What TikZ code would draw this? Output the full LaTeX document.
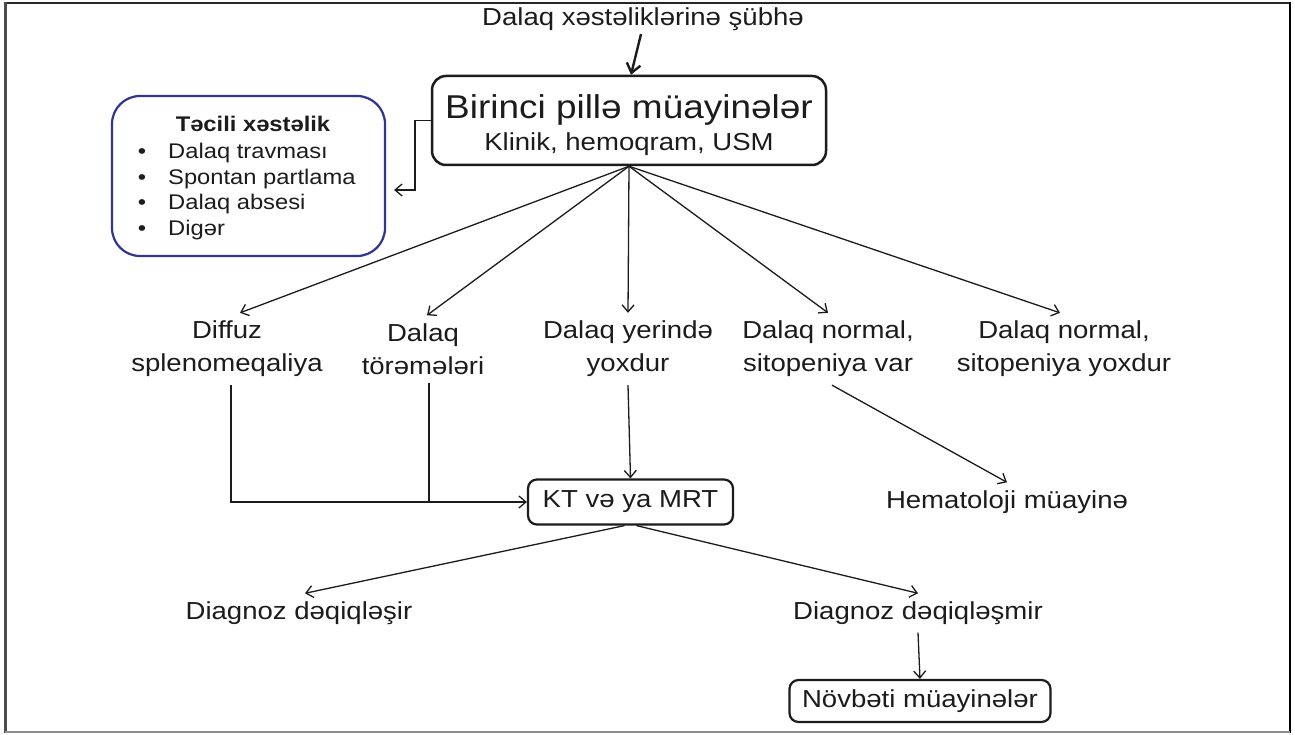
\documentclass[tikz,border=0pt]{standalone}
\usepackage{fontspec}
\setmainfont[FakeStretch=1.12]{Liberation Sans}
\usetikzlibrary{arrows.meta}
\definecolor{navy}{RGB}{48,52,150}
\definecolor{ink}{RGB}{28,28,28}
\begin{document}
\begin{tikzpicture}[x=1pt,y=-1pt,
  every node/.style={font=\fontsize{24.6}{29}\selectfont, text=ink},
  box/.style={draw=ink, line width=2.2pt, rounded corners=9pt, inner sep=0pt},
  lbl/.style={align=center, inner sep=8pt, font=\fontsize{24.6}{33}\selectfont},
  item/.style={inner sep=0pt, font=\fontsize{21.2}{25}\selectfont},
  arr/.style={draw=ink, -{Straight Barb[length=7pt,width=12pt]}, line width=1.3pt},
  ln/.style={draw=ink, line width=1.3pt}]
\useasboundingbox (0,0) rectangle (1295,735);
\fill[white] (0,0) rectangle (1295,735);
% frame
\draw[line width=2pt, black!85] (5,3) -- (1290,3);
\draw[line width=3pt, black!70] (5,2) -- (5,733);
\draw[line width=2.5pt, black] (1290,2) -- (1290,733);
\draw[line width=2pt, black!45] (5,732) -- (1290,732);

% title and first box
\node (t) at (643,19) {Dalaq xəstəliklərinə şübhə};
\node[box, line width=2.5pt, rounded corners=14pt, minimum width=394pt, minimum height=89pt, align=center] (m) at (629,120.5)
  {{\fontsize{33}{36}\selectfont\rule{0pt}{34pt}Birinci pillə müayinələr}\\[3pt]{\fontsize{24.6}{32}\selectfont Klinik, hemoqram, USM}};
\draw[draw=ink, -{Straight Barb[length=9pt,width=14pt]}, line width=2.4pt] ([xshift=-2pt]t.south) -- ([xshift=2pt]m.north);

% emergency box
\node[box, draw=navy, rounded corners=28pt, minimum width=273pt, minimum height=160pt] (e) at (248.5,176) {};
\node[item, anchor=base, font=\bfseries\fontsize{21.2}{25}\selectfont] (eh) at (253,132) {Təcili xəstəlik};
\node[item, anchor=base] (b1) at (142,159) {\textbullet};
\node[item, anchor=base west] (e1) at (168,159) {Dalaq travması};
\node[item, anchor=base] (b2) at (142,185) {\textbullet};
\node[item, anchor=base west] (e2) at (168,185) {Spontan partlama};
\node[item, anchor=base] (b3) at (142,210) {\textbullet};
\node[item, anchor=base west] (e3) at (168,210) {Dalaq absesi};
\node[item, anchor=base] (b4) at (142,236) {\textbullet};
\node[item, anchor=base west] (e4) at (168,236) {Digər};
\coordinate (ec) at (415,190);
\draw[arr] (m.west) -| (ec) -- ([xshift=8pt]e.east |- ec);

% second level
\node[lbl] (d1) at (227,349) {Diffuz\\splenomeqaliya};
\node[lbl] (d2) at (423,349) {Dalaq\\törəmələri};
\node[lbl] (d3) at (628,349) {Dalaq yerində\\yoxdur};
\node[lbl] (d4) at (828,349) {Dalaq normal,\\sitopeniya var};
\node[lbl] (d5) at (1064,349) {Dalaq normal,\\sitopeniya yoxdur};
\draw[arr] (m.south) -- ([xshift=13pt]d1.north);
\draw[arr] (m.south) -- ([xshift=4pt]d2.north);
\draw[arr] (m.south) -- (d3.north);
\draw[arr] (m.south) -- (d4.north);
\draw[arr] (m.south) -- ([xshift=-4pt]d5.north);

% KT / MRT
\node[box, minimum width=205pt, minimum height=45pt] (k) at (630.5,502) {KT və ya MRT};
\draw[arr] ([xshift=4pt]d1.south) |- (k.west);
\draw[ln] ([xshift=6pt]d2.south) -- ([xshift=6pt]d2.south |- k.west);
\draw[arr] (d3.south) -- (k.north);
\node[lbl] (h) at (1007,502) {Hematoloji müayinə};
\draw[arr] ([xshift=4pt]d4.south) -- (h.north);

% diagnosis
\node[lbl] (g1) at (299,613) {Diagnoz dəqiqləşir};
\node[lbl] (g2) at (918,613) {Diagnoz dəqiqləşmir};
\draw[arr] ([xshift=-6pt]k.south) -- ([xshift=6pt]g1.north);
\draw[arr] ([xshift=6pt]k.south) -- (g2.north);
\node[box, minimum width=261pt, minimum height=42pt] (n) at (920,701) {Növbəti müayinələr};
\draw[arr] (g2.south) -- (n.north);
\end{tikzpicture}
\end{document}
